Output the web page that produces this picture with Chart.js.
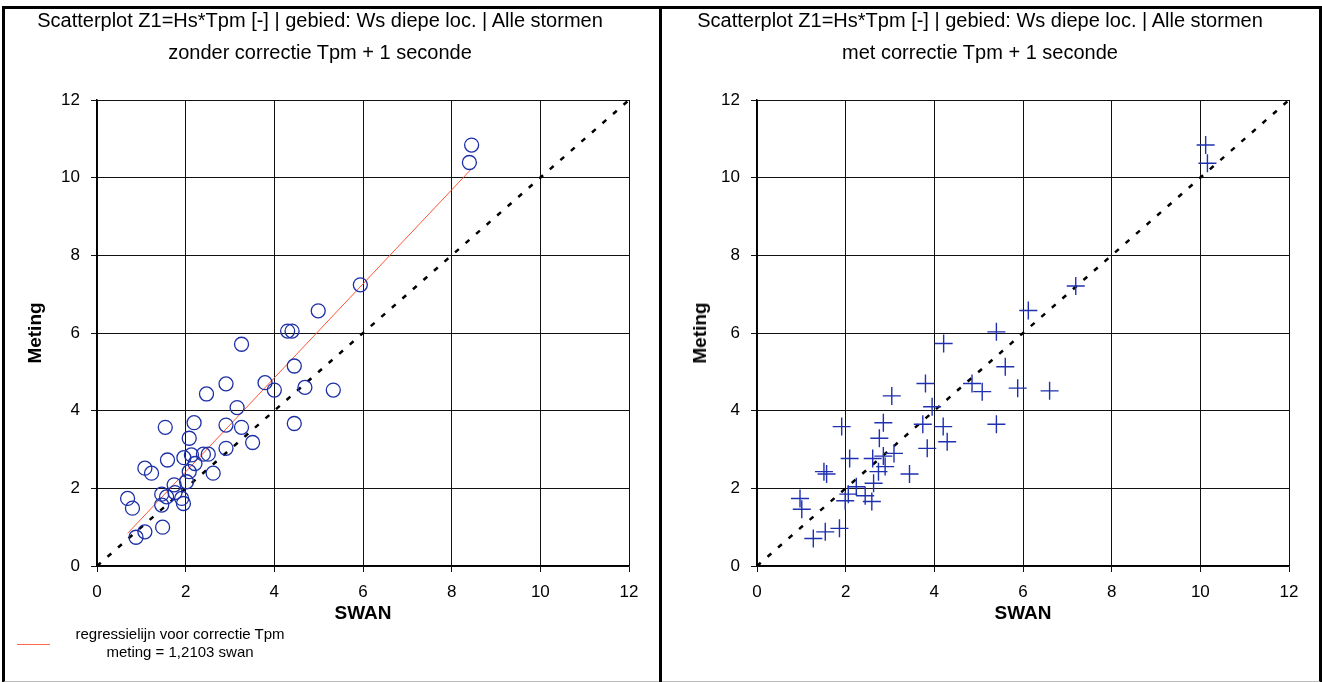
<!DOCTYPE html>
<html>
<head>
<meta charset="utf-8">
<script src="https://cdn.jsdelivr.net/npm/chart.js@4/dist/chart.umd.min.js"></script>
<style>
  body { margin:0; background:#fff; font-family:"Liberation Sans", Arial, sans-serif; }
  #page { position:relative; width:1322px; height:682px; overflow:hidden; }
  .abs { position:absolute; }
  .title { font-size:20px; line-height:32px; text-align:center; color:#000; }
  .axt { font-size:19px; font-weight:bold; color:#000; white-space:nowrap; }
  .legend { font-size:15px; line-height:18px; text-align:center; color:#000; }
</style>
</head>
<body>
<div id="page">
  <div class="abs" style="left:2px;top:6px;width:1314px;height:672px;border:3px solid #000;border-bottom:2px solid #bbb;"></div>
  <div class="abs" style="left:659px;top:6px;width:3px;height:676px;background:#000;"></div>

  <canvas id="leftChart" class="abs" width="652" height="669" style="left:8px;top:9px;"></canvas>
  <canvas id="rightChart" class="abs" width="652" height="669" style="left:668px;top:9px;"></canvas>

  <div class="abs title" style="left:0;top:4px;width:640px;">Scatterplot Z1=Hs*Tpm [-] | gebied: Ws diepe loc. | Alle stormen<br>zonder correctie Tpm + 1 seconde</div>
  <div class="abs title" style="left:660px;top:4px;width:640px;">Scatterplot Z1=Hs*Tpm [-] | gebied: Ws diepe loc. | Alle stormen<br>met correctie Tpm + 1 seconde</div>

  <div class="abs axt" style="left:35px;top:333px;transform:translate(-50%,-50%) rotate(-90deg);">Meting</div>
  <div class="abs axt" style="left:700px;top:333px;transform:translate(-50%,-50%) rotate(-90deg);">Meting</div>
  <div class="abs axt" style="left:363px;top:613px;transform:translate(-50%,-50%);">SWAN</div>
  <div class="abs axt" style="left:1023px;top:613px;transform:translate(-50%,-50%);">SWAN</div>

  <div class="abs" style="left:17px;top:644px;width:33px;height:1px;background:#ff6a4d;"></div>
  <div class="abs legend" style="left:60px;top:625px;width:240px;">regressielijn voor correctie Tpm<br>meting = 1,2103 swan</div>
</div>

<script>
// zonder correctie
const leftSwan   = [4.3, 4.4, 3.26, 4.45, 2.91, 3.79, 4.0, 4.69, 5.33, 2.47, 3.16, 4.45, 1.54, 2.19, 2.91, 3.26,
                    2.08, 3.51, 2.91, 2.13, 2.4, 2.51, 1.96, 1.59, 2.21, 1.08, 1.23, 2.62, 2.08, 2.02, 1.74, 1.46,
                    1.76, 1.91, 0.69, 0.80, 1.46, 1.95, 1.48, 1.08, 0.88, 1.57, 8.45, 8.4, 5.94, 4.99];
const leftMeting = [6.05, 6.05, 5.71, 5.15, 4.69, 4.72, 4.53, 4.6, 4.53, 4.43, 4.08, 3.67, 3.57, 3.69, 3.63, 3.57,
                    3.29, 3.18, 3.03, 2.86, 2.88, 2.88, 2.79, 2.73, 2.64, 2.52, 2.39, 2.39, 2.43, 2.17, 2.09, 1.85,
                    1.89, 1.74, 1.74, 1.49, 1.57, 1.61, 1.0, 0.88, 0.74, 1.78, 10.84, 10.39, 7.24, 6.57];

// met correctie
const rightSwan   = [5.40, 4.21, 5.60, 3.80, 4.85, 5.08, 5.88, 3.04, 3.95, 5.40, 1.91, 2.85, 3.74, 4.20, 2.76, 4.29,
                     3.84, 3.44, 2.09, 2.61, 2.85, 3.09, 2.89, 2.74, 1.51, 1.57, 2.63, 2.24, 2.06, 1.99, 2.44, 2.59,
                     0.97, 1.01, 1.86, 1.54, 1.27, 10.12, 10.16, 7.19, 6.12, 6.6];
const rightMeting = [6.03, 5.73, 5.13, 4.70, 4.70, 4.49, 4.58, 4.38, 4.10, 3.65, 3.59, 3.69, 3.65, 3.59, 3.29, 3.20,
                     3.03, 2.37, 2.77, 2.77, 2.83, 2.90, 2.56, 2.43, 2.43, 2.37, 2.13, 2.04, 1.85, 1.68, 1.81, 1.66,
                     1.74, 1.46, 0.97, 0.88, 0.71, 10.84, 10.37, 7.21, 6.58, 4.51];

// regressielijn (meting = 1,2103 swan) and 1:1 line
const regSwan = [0.69, 8.45];
const regMeting = [0.84, 10.23];
const diagVals = [0, 12];

const axisTicks = [0, 2, 4, 6, 8, 10, 12];

const toXY = (xs, ys) => xs.map((x, i) => ({ x: x, y: ys[i] }));

function scaleOpts(isY){
  return {
    type: 'linear', min: 0, max: 12,
    afterBuildTicks: s => { s.ticks = axisTicks.map(v => ({ value: v })); },
    afterFit: s => { if (isY) s.width = 89; else s.height = 112; },
    ticks: { color: '#000', font: { family: 'Liberation Sans', size: 17 }, padding: isY ? 11 : 10 },
    grid: { color: '#111', lineWidth: 1, tickLength: 6, tickColor: '#111' },
    border: { color: '#000', width: 1.5 }
  };
}

function makeChart(id, pts, style, withReg){
  const datasets = [];
  datasets.push({
    data: toXY(diagVals, diagVals), showLine: true, pointRadius: 0,
    borderColor: '#000', borderWidth: 2.5, borderDash: [5, 9], order: 3
  });
  if (withReg) {
    datasets.push({
      data: toXY(regSwan, regMeting), showLine: true, pointRadius: 0,
      borderColor: '#ff5535', borderWidth: 1, order: 2
    });
  }
  datasets.push(Object.assign({ data: pts, showLine: false, order: 1 }, style));

  return new Chart(document.getElementById(id), {
    type: 'scatter',
    data: { datasets },
    options: {
      responsive: false, animation: false,
      layout: { padding: { top: 91, right: 31, left: 0, bottom: 0 } },
      plugins: { legend: { display: false }, tooltip: { enabled: false } },
      scales: { x: scaleOpts(false), y: scaleOpts(true) }
    }
  });
}

makeChart('leftChart', toXY(leftSwan, leftMeting), {
  pointStyle: 'circle', pointRadius: 7, pointBorderWidth: 1.3,
  pointBorderColor: '#1c2fa6', pointBackgroundColor: 'rgba(0,0,0,0)'
}, true);

makeChart('rightChart', toXY(rightSwan, rightMeting), {
  pointStyle: 'cross', pointRadius: 9, pointBorderWidth: 1.4,
  pointBorderColor: '#1f30b0', pointBackgroundColor: '#1f30b0'
}, false);
</script>
</body>
</html>
